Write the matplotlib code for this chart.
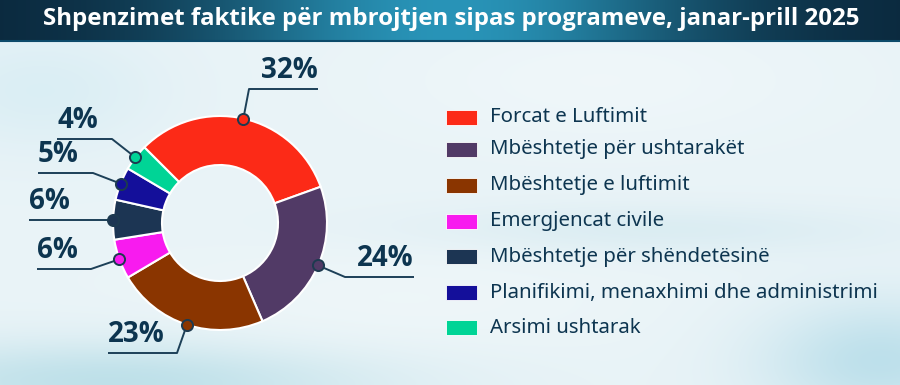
import numpy as np
import matplotlib
matplotlib.use("Agg")
import matplotlib.pyplot as plt

# ---- data ----
categories = ["Forcat e Luftimit", "Mbështetje për ushtarakët", "Mbështetje e luftimit",
              "Emergjencat civile", "Mbështetje për shëndetësinë",
              "Planifikimi, menaxhimi dhe administrimi", "Arsimi ushtarak"]
values = [32, 24, 23, 6, 6, 5, 4]
labels = ["32%", "24%", "23%", "6%", "6%", "5%", "4%"]
colors = ["#fc2a17", "#513a66", "#8a3500", "#f81bef", "#1c3553", "#140f9a", "#00d496"]
title = "Shpenzimet faktike për mbrojtjen sipas programeve, janar-prill 2025"

W, H = 900, 385
TXT = "#0d3550"

fig = plt.figure(figsize=(9, 3.85), dpi=100)
ax = fig.add_axes([0, 0, 1, 1])

# ---- background ----
yy, xx = np.mgrid[0:H, 0:W]
bg = np.ones((H, W, 3)) * np.array([0.915, 0.955, 0.97])
def blob(cx, cy, sx, sy, col, a):
    g = np.exp(-(((xx - cx) / sx) ** 2 + ((yy - cy) / sy) ** 2))[..., None] * a
    return g, np.array(col)
for cx, cy, sx, sy, col, a in [(120, 380, 260, 40, (0.70, 0.86, 0.90), 0.8),
                               (880, 360, 120, 60, (0.70, 0.86, 0.91), 0.8),
                               (40, 90, 120, 60, (0.82, 0.92, 0.95), 0.6),
                               (600, 80, 200, 60, (0.96, 0.98, 0.99), 0.5),
                               (650, 230, 250, 25, (0.80, 0.90, 0.93), 0.5),
                               (400, 300, 250, 60, (0.95, 0.975, 0.98), 0.5)]:
    g, c = blob(cx, cy, sx, sy, col, a)
    bg = bg * (1 - g) + c * g
ax.imshow(bg, extent=(0, W, 0, H), origin="upper", zorder=0, aspect="auto")

# ---- title banner ----
bx = np.linspace(0, 1, W)
t = np.exp(-((bx - 0.5) / 0.28) ** 2)
dark = np.array([0.04, 0.15, 0.23])
mid = np.array([0.16, 0.58, 0.72])
ban = dark[None, :] * (1 - t[:, None]) + mid[None, :] * t[:, None]
ban = np.repeat(ban[None, :, :], 40, axis=0)
ax.imshow(ban, extent=(0, W, H - 40, H), origin="upper", zorder=1, aspect="auto")
ax.plot([0, W], [H - 40.5, H - 40.5], color="#0c4a6a", lw=1.5, zorder=2)
ax.text(451, H - 19, title, color="white", fontsize=17.3, fontweight="bold",
        family="Open Sans", ha="center", va="center", zorder=3)

# ---- donut ----
cx, cy, R, r_in = 220, H - 223, 107, 58
wedges, _ = ax.pie(values, colors=colors, startangle=135, counterclock=False,
                   radius=R, center=(cx, cy),
                   wedgeprops=dict(width=R - r_in, edgecolor="white", linewidth=1.5))
for w in wedges:
    w.set_zorder(4)

# label layout: elbow point (px), end x of leader (px)
elbows = [(249, 89), (345, 277), (177, 353), (91, 269), (None, None), (93, 173), (112, 139)]
ends_x = [318, 414, 108, 37, 29, 38, 57]
for w, lab, col, (ex, ey), endx in zip(wedges, labels, colors, elbows, ends_x):
    th = np.deg2rad((w.theta1 + w.theta2) / 2)
    dx, dy = cx + R * np.cos(th), cy + R * np.sin(th)
    if ex is None:
        ex, eyd = dx, dy
    else:
        eyd = H - ey
    ax.plot([dx, ex, endx], [dy, eyd, eyd], color="#1d4058", lw=1.4, zorder=5,
            solid_capstyle="butt")
    ax.plot([dx], [dy], "o", ms=8, mfc=col, mec="#1d3a50", mew=1.4, zorder=6)
    ha = "right" if endx > ex else "left"
    ax.text(endx, eyd + 3.5, lab, ha=ha, va="bottom", fontsize=20, fontweight="bold",
            family="Open Sans", color=TXT, zorder=6)

# ---- legend ----
rows_y = [117.3, 149.3, 185, 221, 256.7, 292.7, 327.7]
for yv, col, cat in zip(rows_y, colors, categories):
    ax.add_patch(plt.Rectangle((446, H - yv - 7.5), 31, 15, facecolor=col,
                               edgecolor="white", lw=0.6, zorder=4))
    ax.text(490, H - yv, cat, ha="left", va="center", fontsize=14.7, family="Noto Sans",
            color=TXT, zorder=4)

ax.set_xlim(0, W)
ax.set_ylim(0, H)
ax.set_aspect("auto")
ax.axis("off")
fig.savefig("out.png", dpi=100)
